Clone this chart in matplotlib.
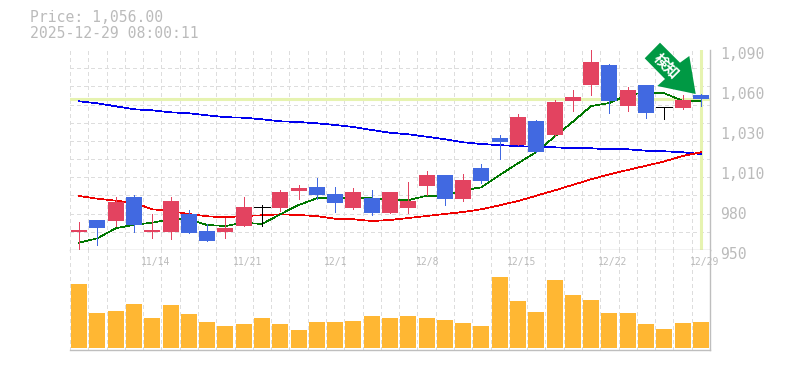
import numpy as np
import matplotlib
matplotlib.use("Agg")
import matplotlib.pyplot as plt
from matplotlib.patches import Polygon
from matplotlib.transforms import ScaledTranslation, blended_transform_factory

W, H = 785, 370

opens = [962.6, 971, 970.3, 987.1, 962.6, 962.6, 975.2, 963.3, 962.6, 966.8, 979.9, 979.4, 991.3, 994.1, 989.2,
         979.4, 986.4, 975.9, 979.4, 994.8, 1002.5, 985.7, 1007.4, 1028.4, 1023.5, 1040.3, 1030.5, 1054.3, 1065.5,
         1079.5, 1050.8, 1065.5, 1050.1, 1049.4, 1058.5]
highs = [969.6, 971, 987.1, 988.5, 975.2, 987.1, 978, 968.2, 972.4, 987.1, 981.5, 992, 995.5, 1000.4, 994.1,
         993.4, 992, 990.6, 997.6, 1005.3, 1002.5, 1003.2, 1010.2, 1030.5, 1045.2, 1041, 1055, 1062, 1090,
         1080.2, 1064.3, 1065.5, 1050.1, 1058.5, 1059.2]
lows = [949, 953.5, 966.8, 962.6, 958.4, 957.7, 961.9, 956.3, 958.4, 966.8, 966.8, 977.3, 985.7, 985.7, 976.6,
        978.7, 974.5, 975.9, 975.9, 988.5, 981.5, 984.3, 996.9, 1013.7, 1023.5, 1018.6, 1029.8, 1047.3, 1058.5,
        1045.9, 1047.3, 1042.4, 1041.7, 1048.7, 1050.8]
closes = [964, 965.4, 983.6, 967.5, 964, 984.3, 961.9, 956.3, 965.4, 980.1, 979.9, 990.6, 993.4, 988.5, 982.9,
          990.6, 975.9, 990.6, 984.3, 1002.5, 985.7, 999, 998.3, 1025.6, 1043.1, 1018.6, 1053.6, 1057.1, 1081.6,
          1054.3, 1062, 1045.9, 1050.1, 1055, 1056]
ma_short = [955.1, 958.2, 965.2, 967.7, 969.1, 971.5, 971.5, 967.5, 966.8, 969.1, 968.2, 975, 981.5, 986.2, 986.2,
            986.2, 986.2, 985, 984.8, 988, 988, 991.8, 993.9, 1002.5, 1010.7, 1018.6, 1029.3, 1039.8, 1050.8,
            1052.9, 1058.5, 1060.4, 1059.7, 1054.5, 1054.3]
ma_mid = [987.8, 985.9, 984.5, 983.1, 978.5, 977.3, 975.2, 973.6, 972.9, 973.8, 974.3, 975, 974.5, 973.7, 971.9,
          971.5, 970.3, 971, 972.4, 973.8, 975.2, 976.6, 978.5, 981.3, 984.3, 988, 991.7, 995.6, 999.5, 1003,
          1006, 1009, 1012, 1015.8, 1018.4]
ma_long = [1054.1, 1052.7, 1050.6, 1048.5, 1047.8, 1046.4, 1045.7, 1044.3, 1043, 1042.6, 1041.5, 1040.1, 1039.6,
           1038.7, 1037.5, 1036.1, 1034, 1032.1, 1031, 1029.3, 1027.5, 1025.4, 1024.2, 1023.4, 1022.7, 1022.2,
           1021.9, 1021.2, 1021.2, 1020.5, 1020.5, 1019.5, 1019.1, 1018.4, 1017.2]
volumes = [64, 35, 37, 44, 30, 43, 34, 26, 22, 24, 30, 24, 18, 26, 26, 27, 32, 30, 32, 30, 28, 25, 22, 71, 47, 36,
           68, 53, 48, 35, 35, 24, 19, 25, 26]
price_ticks = [950, 978, 1006, 1034, 1062, 1090]
price_labels = ["950", "980", "1,010", "1,030", "1,060", "1,090"]
date_idx = [4, 9, 14, 19, 24, 29, 34]
date_labels = ["11/14", "11/21", "12/1", "12/8", "12/15", "12/22", "12/29"]
last_price = 1056.0
title_lines = ["Price: 1,056.00", "2025-12-29 08:00:11"]

UP, DOWN = "#E34360", "#4169E1"
GRID, FRAME, TEXT = "#DDDDDD", "#BEBEBE", "#BBBBBB"
HILITE = "#E6F3B0"
MONO = "DejaVu Sans Mono"
THIN = 0.7
LINE = 0.5
n = len(closes)
x = np.arange(n)

fig = plt.figure(figsize=(W / 100, H / 100), dpi=100, facecolor="white")
ax = fig.add_axes([70 / W, (H - 250) / H, 640 / W, 200 / H])
axv = fig.add_axes([70 / W, (H - 350) / H, 640 / W, 100 / H])

for a in (ax, axv):
    a.set_xlim(-0.5, n - 0.5)
    a.set_xticks(np.arange(-0.5, n, 1))
    a.tick_params(axis="x", length=0, labelbottom=False)
    a.set_axisbelow(True)
    a.grid(axis="x", color=GRID, lw=THIN, linestyle=(0, (4, 3.5)), antialiased=False, clip_on=False)
    for s in ("top", "left"):
        a.spines[s].set_visible(False)
    for s in ("bottom", "right"):
        a.spines[s].set_color(FRAME)
        a.spines[s].set_linewidth(1.0)

# price pane
ax.set_ylim(950, 1090)
ax.set_yticks(np.linspace(950, 1090, 12), minor=True)
ax.set_yticks(price_ticks)
ax.set_yticklabels(price_labels, fontfamily=MONO, fontsize=10.6, color=TEXT)
ax.yaxis.tick_right()
ax.tick_params(axis="y", which="both", length=0, pad=7)
ax.grid(axis="y", which="minor", color=GRID, lw=THIN, linestyle=(0, (4, 3.5)), antialiased=False, clip_on=False)
for lbl in ax.get_yticklabels():
    lbl.set_transform(lbl.get_transform() + ScaledTranslation(0, -3 / 100, fig.dpi_scale_trans))

ax.axhline(last_price, color=HILITE, lw=2.2, zorder=1.5)
ax.axvline(x[-1], color=HILITE, lw=2.2, zorder=1.5)

ax.plot(x, ma_long, color="#0000EE", lw=LINE, zorder=2, antialiased=False)
ax.plot(x, ma_mid, color="#EE0000", lw=LINE, zorder=2.1, antialiased=False)
ax.plot(x, ma_short, color="#007700", lw=LINE, zorder=2.2, antialiased=False)

body_w = 16 / (640 / n)
for i in range(n):
    o, h, l, c = opens[i], highs[i], lows[i], closes[i]
    col = UP if c > o else DOWN if c < o else "black"
    ax.vlines(x[i], l, h, color=col, lw=THIN, zorder=3, clip_on=False, antialiased=False)
    if c == o:
        ax.hlines(c, x[i] - body_w / 2, x[i] + body_w / 2, color=col, lw=THIN, zorder=3, antialiased=False)
    else:
        ax.bar(x[i], abs(c - o), bottom=min(o, c), width=body_w, color=col, linewidth=0, zorder=3)

# volume pane
axv.set_ylim(-2, 98)
axv.set_yticks([])
axv.bar(x, volumes, width=body_w, color="#FFB733", linewidth=0, zorder=3)
tr = blended_transform_factory(axv.transData, axv.transAxes)
for i, lab in zip(date_idx, date_labels):
    axv.text(i - 0.5, 0.88, lab, transform=tr + ScaledTranslation(-2 / 100, 0, fig.dpi_scale_trans),
             ha="left", va="center", fontfamily=MONO, fontsize=7.0, color=TEXT, zorder=5, clip_on=False)

# header
fig.text(30 / W, 1 - 18 / H, title_lines[0], ha="left", va="center", fontfamily=MONO, fontsize=10.6, color=TEXT)
fig.text(30 / W, 1 - 33 / H, title_lines[1], ha="left", va="center", fontfamily=MONO, fontsize=10.6, color=TEXT)

# signal badge
badge_px = [(660, 42.7), (680, 62.7), (689.3, 56), (695.7, 94), (657.3, 86), (665, 79), (644.7, 58.3)]
fig.add_artist(Polygon([(px / W, 1 - py / H) for px, py in badge_px], closed=True, facecolor="#009944",
                       edgecolor="none", transform=fig.transFigure, zorder=10))
fig.text(667 / W, 1 - 65.5 / H, "検知", rotation=-45, rotation_mode="anchor", ha="center", va="center",
         fontfamily="Noto Sans CJK JP", fontweight="bold", fontsize=10.5, color="white", zorder=11)

fig.savefig("out.png", dpi=100, facecolor="white")
